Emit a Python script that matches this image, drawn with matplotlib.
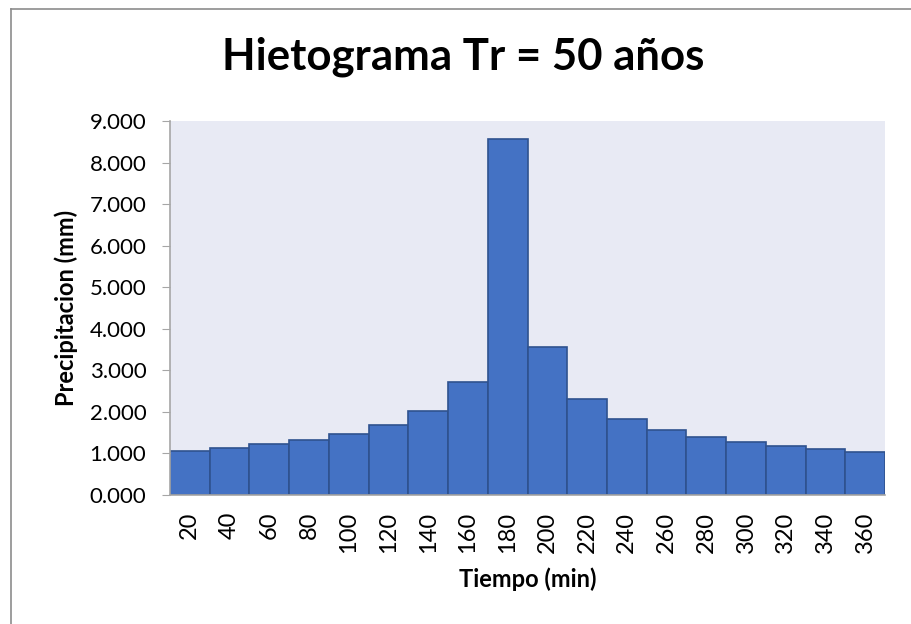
import matplotlib
matplotlib.use('Agg')
import matplotlib.pyplot as plt
from matplotlib.lines import Line2D

# datos del hietograma
tiempo = ['20', '40', '60', '80', '100', '120', '140', '160', '180',
          '200', '220', '240', '260', '280', '300', '320', '340', '360']
precip = [1.06, 1.12, 1.22, 1.32, 1.47, 1.68, 2.03, 2.73, 8.57,
          3.55, 2.30, 1.83, 1.56, 1.39, 1.27, 1.17, 1.10, 1.03]
yticks = [0, 1, 2, 3, 4, 5, 6, 7, 8, 9]

plt.rcParams['font.family'] = ['Lato', 'DejaVu Sans']

fig = plt.figure(figsize=(9.11, 6.24), dpi=100)
ax = fig.add_axes([170 / 911, 1 - 495 / 624, 715 / 911, 374 / 624])
ax.set_facecolor('#E8EAF4')

idx = range(len(precip))
ax.bar(idx, precip, width=1.0, color='#4472C4', edgecolor='#2F528F', linewidth=1.2)

ax.set_xlim(-0.5, len(precip) - 0.5)
ax.set_ylim(0, 9)
ax.set_yticks(yticks)
ax.set_yticklabels(['%.3f' % v for v in yticks], fontsize=16)
ax.set_xticks(list(idx))
ax.set_xticklabels(tiempo, rotation=90, fontsize=17)
ax.tick_params(axis='x', length=0, pad=12)
ax.tick_params(axis='y', length=6, color='#A6A6A6', pad=11)

for s in ['top', 'right']:
    ax.spines[s].set_visible(False)
for s in ['left', 'bottom']:
    ax.spines[s].set_color('#A6A6A6')
    ax.spines[s].set_linewidth(1.2)

ax.set_ylabel('Precipitacion (mm)', fontsize=17, fontweight='bold', labelpad=8)
ax.set_xlabel('Tiempo (min)', fontsize=17, fontweight='bold', labelpad=10)

fig.text(463 / 911, 1 - 57 / 624, 'Hietograma Tr = 50 años', ha='center', va='center',
         fontsize=31.5, fontweight='bold')

# borde del area del grafico
fig.add_artist(Line2D([10.5 / 911, 10.5 / 911], [0, 1 - 8.5 / 624], transform=fig.transFigure,
                      color='#8C8C8C', linewidth=1.2))
fig.add_artist(Line2D([10.5 / 911, 1], [1 - 8.5 / 624, 1 - 8.5 / 624], transform=fig.transFigure,
                      color='#8C8C8C', linewidth=1.2))

fig.savefig('out.png', dpi=100)
